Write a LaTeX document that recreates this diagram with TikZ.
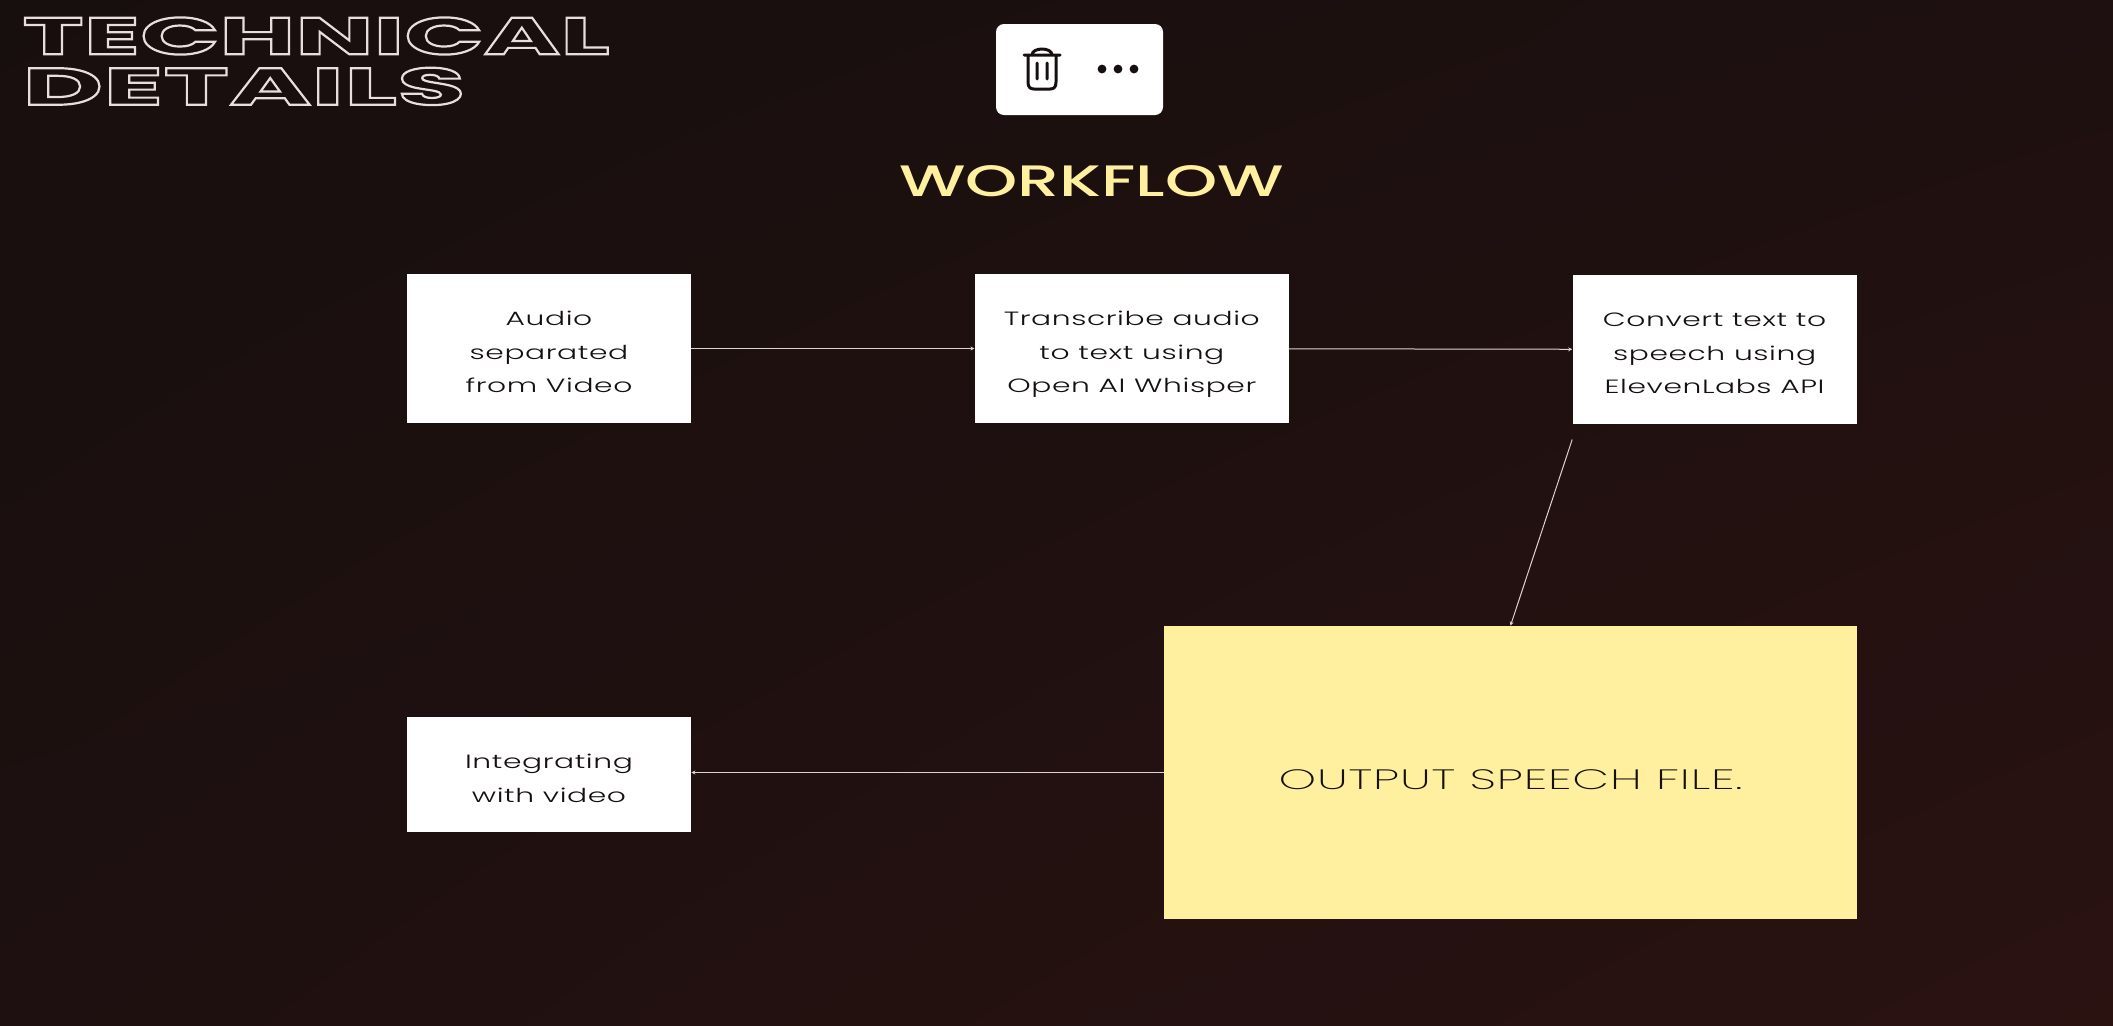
\documentclass[tikz,border=0pt]{standalone}
\usepackage{fontspec}
\usetikzlibrary{positioning,arrows.meta,calc,shadings}
\newfontfamily\bodyfont[FakeStretch=1.55,LetterSpace=3,UprightFont=* Light]{Poppins}
\newfontfamily\headfont[FakeStretch=1.51,UprightFont=* Medium]{Poppins}
\newfontfamily\thinfont[FakeStretch=1.705,LetterSpace=3,UprightFont=* ExtraLight]{Poppins}
\newfontfamily\titlefont[FakeStretch=2.0,UprightFont=* Bold]{Poppins}
\newfontfamily\titlewide[FakeStretch=2.14,UprightFont=* Bold]{Poppins}
\newcommand{\outlinetext}[1]{\special{pdf:code q 1 Tr 1.1 w 0.91 0.87 0.87 RG}#1\special{pdf:code Q}}
\definecolor{bgdark}{HTML}{170F0E}
\definecolor{bgmid}{HTML}{1E1010}
\definecolor{bgred}{HTML}{2A1211}
\definecolor{paleyellow}{HTML}{FFF09F}
\definecolor{inkdark}{HTML}{15100F}
\definecolor{wireline}{HTML}{DDD3D3}
\begin{document}
\begin{tikzpicture}[x=0.5pt,y=-0.5pt,>={Stealth[length=2pt,width=2pt]},
  box/.style={draw=none,fill=white,text=inkdark,align=center,inner sep=0pt,minimum width=142pt,minimum height=74.5pt,
    text height=44.2pt,text depth=0pt,font=\bodyfont\fontsize{9.6}{16.8}\selectfont},
  wire/.style={draw=wireline,line width=0.5pt,->}]
  \shade[upper left=bgdark,upper right=bgmid,lower left=bgmid,lower right=bgred] (0,0) rectangle (2113,1025);
  \node[anchor=north west,inner sep=0pt,text=inkdark,align=left,font=\titlefont\fontsize{26}{25.2}\selectfont] (title) at (22,17)
    {\outlinetext{TECHNICAL}\\\titlewide\outlinetext{DETAILS}};
  \node[fill=white,rounded corners=4pt,minimum width=83.5pt,minimum height=45.5pt,inner sep=0pt] (card) at (1079.5,69.5) {};
  % trash can
  \draw[inkdark,line width=1.5pt,line cap=round,line join=round]
    (1024,55)--(1060,55) (1032,55) .. controls (1032,47) and (1052,47) .. (1052,55)
    (1028,55)--(1028,82) .. controls (1028,87) and (1030,89) .. (1034,89)--(1050,89) .. controls (1054,89) and (1056,87) .. (1056,82)--(1056,55)
    (1037,63)--(1037,79) (1047,63)--(1047,79);
  \foreach \dotx in {1102,1118,1134}
    \fill[inkdark] (\dotx,69) circle (2.2pt);
  \node[text=paleyellow,inner sep=0pt,font=\headfont\fontsize{22}{22}\selectfont] (head) at (1091.5,181) {WORKFLOW};
  \node[box](audio) at (549,348.5){Audio\\separated\\from Video};
  \node[box,minimum width=157pt,right=141.5pt of audio](whisper){Transcribe audio\\to text using\\Open AI Whisper};
  \node[box,right=141.5pt of whisper,yshift=-0.5pt](speech){Convert text to\\speech using\\ElevenLabs API};
  \node[box,minimum height=57.5pt,text height=28.1pt,below=146.5pt of audio](video){Integrating\\with video};
  \node[box,fill=paleyellow,minimum width=346.5pt,minimum height=146.5pt,text height=18.8pt,text depth=2pt,font=\thinfont\fontsize{14}{16}\selectfont] (output) at (1510.5,772.5){OUTPUT SPEECH FILE.};
  \coordinate(start) at ($(speech.south west)+(0,15)$);
  \draw[wire](audio)--(whisper);
  \draw[wire](whisper)--(speech);
  \draw[wire](start)--(output.north);
  \draw[wire](output.west)--(output.west-|video.east);
\end{tikzpicture}
\end{document}
